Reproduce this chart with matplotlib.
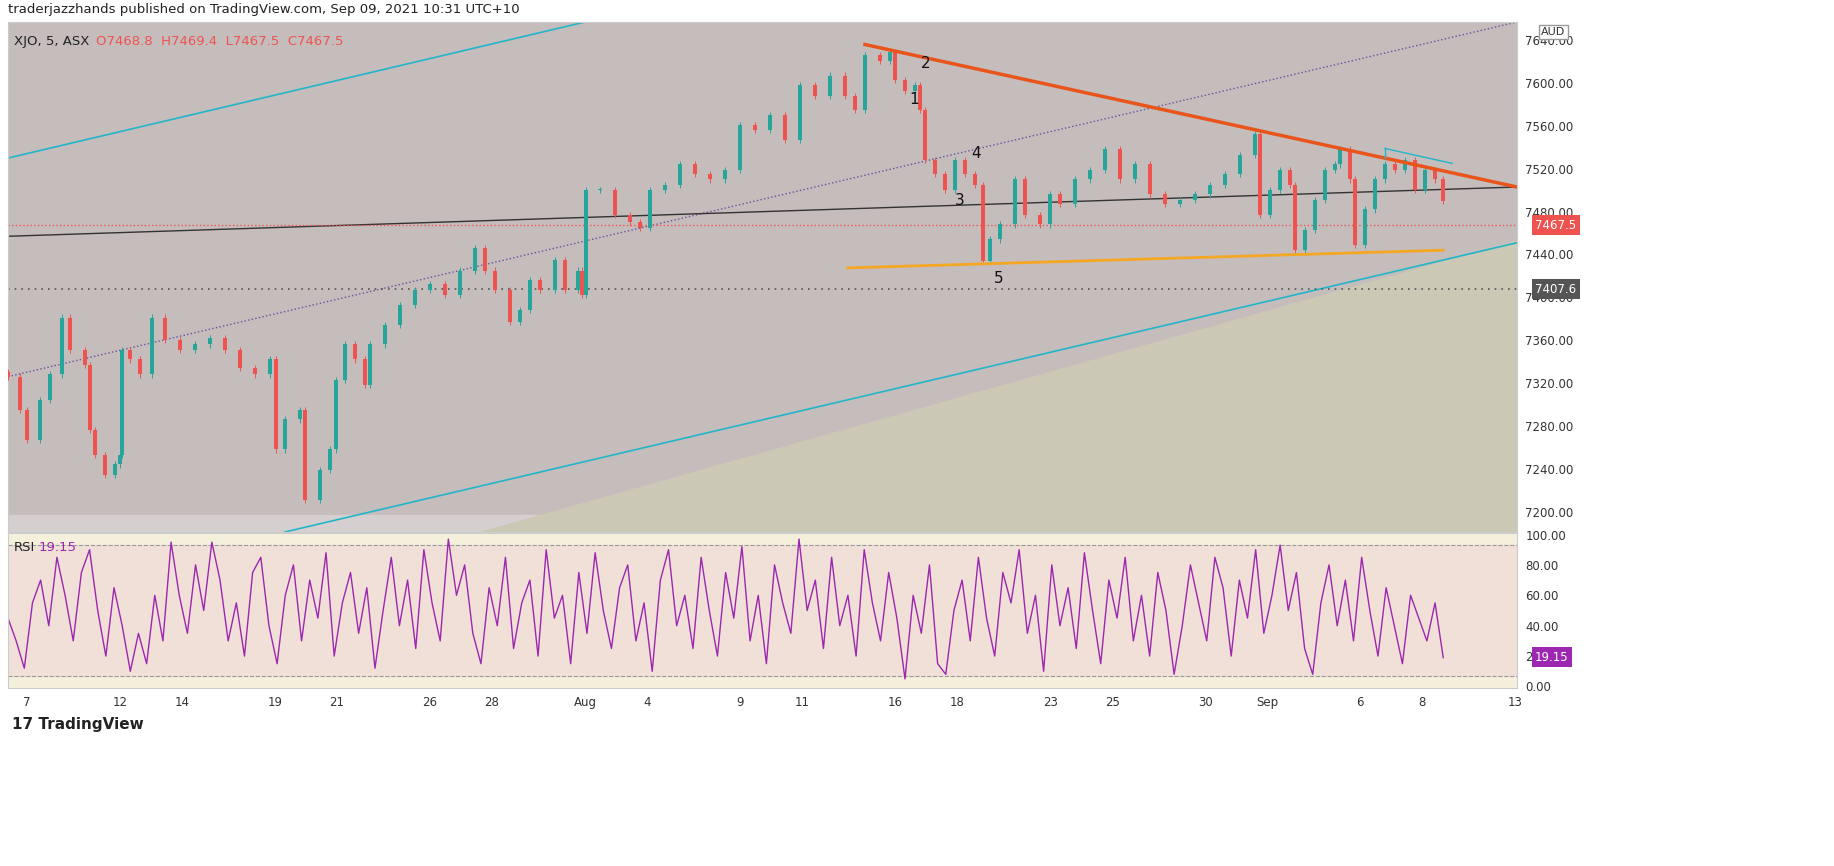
import matplotlib.pyplot as plt
import numpy as np

# price path (x in trading days from Jul 7, y = close)
t_px = [-0.61, -0.23, 0, 0.42, 0.74, 1.13, 1.39, 1.87, 2.03, 2.19, 2.52, 2.84, 3.0, 3.06,
        3.32, 3.65, 4.03, 4.45, 4.94, 5.42, 5.9, 6.39, 6.87, 7.35, 7.84, 8.03, 8.32, 8.81,
        8.97, 9.45, 9.77, 9.97, 10.26, 10.58, 10.9, 11.06, 11.55, 12.03, 12.52, 13.0, 13.48,
        13.97, 14.45, 14.77, 15.1, 15.58, 15.9, 16.23, 16.55, 17.03, 17.35, 17.77, 17.9,
        18.03, 18.48, 18.97, 19.45, 19.77, 20.1, 20.58, 21.06, 21.55, 22.03, 22.52, 23.0,
        23.48, 23.97, 24.45, 24.94, 25.42, 25.9, 26.39, 26.71, 27.03, 27.52, 27.84, 28.0,
        28.32, 28.65, 28.81, 28.97, 29.29, 29.61, 29.94, 30.26, 30.58, 30.84, 31.06, 31.39,
        31.87, 32.19, 32.68, 33.0, 33.32, 33.81, 34.29, 34.77, 35.26, 35.74, 36.23, 36.71,
        37.19, 37.68, 38.16, 38.65, 39.13, 39.61, 39.77, 40.1, 40.42, 40.74, 40.9, 41.23,
        41.55, 41.87, 42.19, 42.35, 42.68, 42.84, 43.16, 43.48, 43.81, 44.13, 44.45, 44.77,
        45.1, 45.42, 45.68]
close = [7326, 7295, 7267, 7304, 7328, 7381, 7351, 7337, 7276, 7253, 7234, 7244, 7253, 7351,
         7342, 7328, 7381, 7360, 7351, 7356, 7362, 7351, 7334, 7328, 7342, 7258, 7286, 7295,
         7211, 7239, 7258, 7323, 7356, 7342, 7318, 7356, 7374, 7393, 7407, 7412, 7402,
         7425, 7446, 7425, 7407, 7377, 7388, 7416, 7407, 7435, 7407, 7425, 7402,
         7500, 7500, 7477, 7470, 7465, 7500, 7505, 7524, 7515, 7510, 7519, 7561,
         7556, 7570, 7547, 7598, 7588, 7607, 7588, 7575, 7626, 7621, 7629, 7603,
         7593, 7598, 7575, 7528, 7515, 7500, 7528, 7515, 7505, 7434, 7454, 7468,
         7510, 7477, 7468, 7496, 7487, 7510, 7519, 7538, 7510, 7524, 7496, 7487,
         7491, 7496, 7505, 7515, 7533, 7552, 7477, 7500, 7519, 7505, 7444, 7463,
         7491, 7519, 7524, 7538, 7510, 7449, 7482, 7510, 7524, 7519, 7528, 7500,
         7519, 7510, 7490]

rsi = [45, 30, 12, 55, 70, 40, 85, 60, 30, 75, 90, 50, 20, 65, 40, 10, 35, 15, 60, 30,
       95, 60, 35, 80, 50, 95, 70, 30, 55, 20, 75, 85, 40, 15, 60, 80, 30, 70, 45, 88,
       20, 55, 75, 35, 65, 12, 50, 85, 40, 70, 25, 90, 55, 30, 97, 60, 80, 35, 15, 65,
       40, 85, 25, 55, 70, 20, 90, 45, 60, 15, 75, 35, 88, 50, 25, 65, 80, 30, 55, 10,
       70, 90, 40, 60, 25, 85, 50, 20, 75, 45, 92, 30, 60, 15, 80, 55, 35, 97, 50, 70,
       25, 85, 40, 60, 20, 90, 55, 30, 75, 45, 5, 60, 35, 80, 15, 8, 50, 70, 30, 85,
       45, 20, 75, 55, 90, 35, 60, 10, 80, 40, 65, 25, 88, 50, 15, 70, 45, 85, 30, 60,
       20, 75, 50, 8, 40, 80, 55, 30, 85, 65, 20, 70, 45, 90, 35, 60, 93, 50, 75, 25,
       8, 55, 80, 40, 70, 30, 85, 50, 20, 65, 40, 15, 60, 45, 30, 55, 19]

day_ticks = [0, 3, 5, 8, 10, 13, 15, 18, 20, 23, 25, 28, 30, 33, 35, 38, 40, 43, 45, 48]
day_labels = ["7", "12", "14", "19", "21", "26", "28", "Aug", "4", "9", "11", "16", "18",
              "23", "25", "30", "Sep", "6", "8", "13"]
price_ticks = list(range(7200, 7641, 40))
rsi_ticks = [0, 20, 40, 60, 80, 100]

fig = plt.figure(figsize=(18.34, 8.66), dpi=100)
fig.patch.set_facecolor("white")
W, H = 1834, 866
ax = fig.add_axes([8 / W, 1 - 532 / H, 1509 / W, 510 / H])
ar = fig.add_axes([8 / W, 1 - 688 / H, 1509 / W, 155 / H], sharex=ax)

x0, x1 = -0.61, 48.06
ylo, yhi = 7181, 7657
ax.set_xlim(x0, x1)
ax.set_ylim(ylo, yhi)
ax.set_facecolor("#c4bdbc")
ax.axhspan(ylo, 7197, color="#d6cfcf", zorder=0)
# shaded wedge below the lower channel diagonal
ax.fill_between([14.6, x1], [ylo, ylo], [ylo, 7453], color="#cbc8b6", zorder=0.5)

# candles
t = np.array(t_px)
c = np.array(close, dtype=float)
o = np.r_[c[0] + 4, c[:-1]]
hi = np.maximum(o, c) + 3
lo = np.minimum(o, c) - 3
up = c >= o
for i in range(len(t)):
    col = "#26a69a" if up[i] else "#ef5350"
    ax.vlines(t[i], lo[i], hi[i], color=col, lw=0.7, zorder=3)
    ax.bar(t[i], max(abs(c[i] - o[i]), 1), bottom=min(o[i], c[i]), width=0.12,
           color=col, zorder=3)

# drawings
ax.plot([-0.61, 18.0], [7530, 7657], color="#22b5c8", lw=1.2, zorder=2)
ax.plot([8.32, 48.06], [7181, 7451], color="#22b5c8", lw=1.2, zorder=2)
ax.plot([-0.61, 48.06], [7326, 7657], color="#6a4fa0", lw=1, ls=":", zorder=2)
ax.plot([-0.61, 48.06], [7457, 7503], color="#333333", lw=1, zorder=2)
ax.plot([27.03, 48.06], [7636, 7503], color="#e8541a", lw=2.5, zorder=4)
ax.plot([26.48, 45.68], [7427.5, 7444], color="#f5a623", lw=2, zorder=4)
ax.plot([43.8, 45.97], [7539, 7525], color="#22b5c8", lw=1, zorder=4)
ax.plot([43.8, 43.8], [7539, 7530], color="#22b5c8", lw=1, zorder=4)
ax.axhline(7467.5, color="#ef5350", lw=1, ls=":", zorder=2)
ax.axhline(7407.6, color="#555555", lw=1.2, ls=(0, (1, 3)), zorder=2)
for lbl, tx, py in [("1", 28.6, 7585), ("2", 29.0, 7618), ("3", 30.1, 7490),
                    ("4", 30.6, 7534), ("5", 31.35, 7418)]:
    ax.text(tx, py, lbl, fontsize=11, ha="center", va="center", color="#111111", zorder=5)

ax.text(0.004, 0.975, "XJO, 5, ASX", transform=ax.transAxes, fontsize=9.5,
        color="#222222", va="top")
ax.text(0.058, 0.975, "O7468.8  H7469.4  L7467.5  C7467.5", transform=ax.transAxes,
        fontsize=9.5, color="#ef5350", va="top")

ax.yaxis.tick_right()
ax.set_yticks(price_ticks)
ax.set_yticklabels([f"{v:.2f}" for v in price_ticks], fontsize=8.5, color="#333333")
ax.tick_params(axis="y", length=0, pad=6)
ax.tick_params(axis="x", bottom=False, labelbottom=False)
for sp in ax.spines.values():
    sp.set_color("#cccccc")
ax.text(1.012, 7467.5, "7467.5", transform=ax.get_yaxis_transform(), fontsize=8.5,
        color="white", va="center", ha="left",
        bbox=dict(boxstyle="square,pad=0.3", fc="#ef5350", ec="none"))
ax.text(1.012, 7407.6, "7407.6", transform=ax.get_yaxis_transform(), fontsize=8.5,
        color="white", va="center", ha="left",
        bbox=dict(boxstyle="square,pad=0.3", fc="#555555", ec="none"))
ax.text(1.016, 0.99, "AUD", transform=ax.transAxes, fontsize=8, color="#333333",
        va="top", bbox=dict(boxstyle="square,pad=0.2", fc="white", ec="#999999"))

# RSI pane
ar.set_ylim(-1, 101)
ar.set_facecolor("#f5f0dc")
ar.axhspan(7, 93, color="#f0e0d8", zorder=0)
ar.axhline(93, color="#999999", lw=0.8, ls="--")
ar.axhline(7, color="#999999", lw=0.8, ls="--")
tr = np.linspace(-0.61, 45.68, len(rsi))
ar.plot(tr, rsi, color="#9c27b0", lw=1)
ar.yaxis.tick_right()
ar.set_yticks(rsi_ticks)
ar.set_yticklabels([f"{v:.2f}" for v in rsi_ticks], fontsize=8.5, color="#333333")
ar.tick_params(axis="y", length=0, pad=6)
ar.set_xticks(day_ticks)
ar.set_xticklabels(day_labels, fontsize=8.5, color="#333333")
ar.tick_params(axis="x", length=0, pad=6)
for sp in ar.spines.values():
    sp.set_color("#cccccc")
ar.text(0.004, 0.95, "RSI", transform=ar.transAxes, fontsize=9.5, color="#222222", va="top")
ar.text(0.02, 0.95, "19.15", transform=ar.transAxes, fontsize=9.5, color="#9c27b0", va="top")
ar.text(1.012, 19.15, "19.15", transform=ar.get_yaxis_transform(), fontsize=8.5,
        color="white", va="center", ha="left",
        bbox=dict(boxstyle="square,pad=0.3", fc="#9c27b0", ec="none"))

fig.text(8 / W, 1 - 10 / H, "traderjazzhands published on TradingView.com, Sep 09, 2021 10:31 UTC+10",
         fontsize=9.5, color="#222222", va="center")
fig.text(12 / W, 1 - 724 / H, "17 TradingView", fontsize=11, color="#222222",
         va="center", fontweight="bold")

fig.savefig("out.png", dpi=100)
